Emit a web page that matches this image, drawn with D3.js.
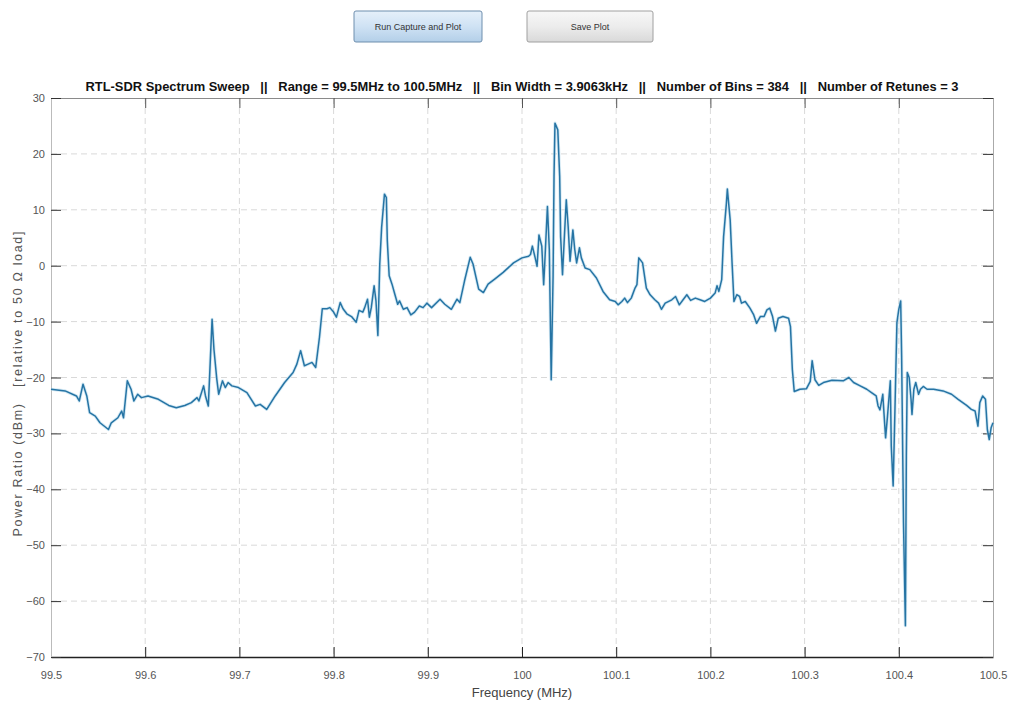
<!DOCTYPE html>
<html>
<head>
<meta charset="utf-8">
<script src="https://cdn.jsdelivr.net/npm/d3@7"></script>
<style>
  html, body { margin: 0; padding: 0; background: #ffffff; }
  svg { display: block; }
</style>
</head>
<body>
<svg id="chart" width="1011" height="706"></svg>
<script>
const titleText = "RTL-SDR Spectrum Sweep   ||   Range = 99.5MHz to 100.5MHz   ||   Bin Width = 3.9063kHz   ||   Number of Bins = 384   ||   Number of Retunes = 3";
const xLabel = "Frequency (MHz)";
const yLabel = "Power Ratio (dBm)   [relative to 50 \u03A9 load]";
const buttonLabels = ["Run Capture and Plot", "Save Plot"];
const xTicks = [99.5, 99.6, 99.7, 99.8, 99.9, 100, 100.1, 100.2, 100.3, 100.4, 100.5];
const xTickLabels = ["99.5", "99.6", "99.7", "99.8", "99.9", "100", "100.1", "100.2", "100.3", "100.4", "100.5"];
const yTicks = [30, 20, 10, 0, -10, -20, -30, -40, -50, -60, -70];

const freqMHz = [
  99.500, 99.515, 99.527, 99.530, 99.534, 99.538, 99.541, 99.547, 99.552, 99.561,
  99.564, 99.571, 99.575, 99.577, 99.581, 99.585, 99.588, 99.592, 99.596, 99.603,
  99.614, 99.625, 99.633, 99.642, 99.649, 99.655, 99.657, 99.662, 99.664, 99.667,
  99.671, 99.673, 99.676, 99.678, 99.682, 99.685, 99.688, 99.692, 99.699, 99.708,
  99.717, 99.722, 99.729, 99.738, 99.748, 99.757, 99.761, 99.765, 99.769, 99.773,
  99.777, 99.781, 99.785, 99.788, 99.793, 99.796, 99.800, 99.803, 99.807, 99.810,
  99.814, 99.819, 99.824, 99.827, 99.831, 99.833, 99.836, 99.838, 99.840, 99.843,
  99.845, 99.847, 99.849, 99.851, 99.854, 99.856, 99.857, 99.859, 99.862, 99.865,
  99.868, 99.870, 99.874, 99.878, 99.882, 99.886, 99.891, 99.895, 99.899, 99.904,
  99.913, 99.918, 99.925, 99.931, 99.934, 99.939, 99.945, 99.948, 99.954, 99.959,
  99.964, 99.971, 99.980, 99.991, 100.000, 100.007, 100.009, 100.011, 100.014, 100.016,
  100.018, 100.021, 100.023, 100.024, 100.027, 100.029, 100.031, 100.033, 100.034, 100.035,
  100.038, 100.040, 100.041, 100.043, 100.045, 100.047, 100.049, 100.051, 100.054, 100.056,
  100.058, 100.061, 100.063, 100.067, 100.072, 100.079, 100.086, 100.093, 100.099, 100.102,
  100.106, 100.109, 100.112, 100.116, 100.120, 100.122, 100.124, 100.128, 100.132, 100.136,
  100.141, 100.145, 100.148, 100.152, 100.159, 100.163, 100.167, 100.171, 100.175, 100.179,
  100.184, 100.189, 100.194, 100.200, 100.205, 100.207, 100.209, 100.212, 100.214, 100.217,
  100.218, 100.221, 100.223, 100.225, 100.228, 100.231, 100.233, 100.237, 100.242, 100.246,
  100.249, 100.253, 100.257, 100.260, 100.263, 100.266, 100.269, 100.272, 100.277, 100.283,
  100.285, 100.287, 100.289, 100.295, 100.302, 100.306, 100.308, 100.311, 100.315, 100.320,
  100.329, 100.341, 100.347, 100.352, 100.359, 100.366, 100.371, 100.376, 100.378, 100.380,
  100.383, 100.384, 100.386, 100.388, 100.391, 100.392, 100.394, 100.396, 100.398, 100.400,
  100.402, 100.403, 100.405, 100.407, 100.408, 100.409, 100.411, 100.413, 100.414, 100.416,
  100.418, 100.421, 100.423, 100.426, 100.430, 100.437, 100.447, 100.456, 100.463, 100.472,
  100.477, 100.481, 100.484, 100.486, 100.489, 100.492, 100.494, 100.496, 100.498, 100.500
];
const powerDbm = [
  -22.1, -22.4, -23.3, -24.2, -21.2, -23.3, -26.3, -26.9, -28.1, -29.3,
  -28.1, -27.2, -26.0, -27.2, -20.6, -22.1, -24.2, -23.0, -23.6, -23.3,
  -23.9, -25.0, -25.4, -25.0, -24.5, -23.6, -24.2, -21.5, -23.3, -25.1,
  -9.6, -15.0, -20.3, -23.0, -20.6, -21.8, -20.9, -21.5, -21.8, -22.7,
  -25.1, -24.8, -25.7, -23.3, -20.9, -19.1, -17.6, -15.2, -17.9, -17.6,
  -17.3, -18.2, -12.8, -7.7, -7.7, -7.5, -8.3, -9.2, -6.6, -7.7,
  -8.6, -9.1, -10.1, -8.0, -8.3, -7.5, -6.0, -9.2, -7.5, -3.6,
  -6.3, -12.5, 0.3, 6.9, 12.8, 12.2, 4.5, -1.8, -3.3, -5.1,
  -6.9, -6.3, -7.8, -7.5, -8.8, -8.3, -7.2, -7.5, -6.7, -7.5,
  -6.0, -6.9, -7.8, -6.0, -6.6, -2.7, 1.5, 0.3, -4.2, -4.8,
  -3.3, -2.4, -1.2, 0.5, 1.4, 1.7, 2.0, 3.5, 1.4, -0.1,
  5.5, 3.5, -3.4, -0.1, 10.6, 2.9, -20.4, -1.9, 16.0, 25.5,
  24.3, 16.0, 5.2, -1.6, 5.2, 11.8, 7.0, 0.8, 6.4, 2.9,
  0.5, 3.2, 1.4, -0.4, -0.7, -2.2, -4.6, -6.1, -6.4, -7.0,
  -6.4, -5.8, -6.6, -5.8, -4.0, -3.4, 1.4, 0.5, -4.0, -5.2,
  -6.1, -6.7, -7.8, -6.7, -6.1, -5.5, -7.0, -6.1, -5.2, -6.2,
  -5.8, -6.1, -6.4, -5.8, -4.9, -3.6, -4.6, -2.5, 5.2, 11.2,
  13.7, 8.2, 0.5, -6.4, -5.2, -5.5, -6.7, -6.4, -7.6, -8.8,
  -10.3, -9.1, -9.1, -7.9, -7.6, -9.1, -11.7, -9.4, -9.1, -9.4,
  -10.9, -18.6, -22.5, -22.1, -22.0, -20.7, -17.0, -20.4, -21.4, -20.9,
  -20.5, -20.6, -20.0, -20.9, -21.5, -22.1, -22.7, -23.3, -25.1, -25.8,
  -23.0, -25.7, -30.8, -26.9, -20.6, -32.2, -39.4, -25.1, -10.2, -7.8,
  -6.3, -16.1, -46.0, -64.4, -34.0, -19.1, -20.0, -23.9, -26.6, -22.1,
  -20.9, -23.0, -22.1, -21.6, -22.1, -22.1, -22.4, -23.0, -23.9, -25.0,
  -25.7, -26.0, -28.7, -24.5, -23.3, -23.9, -29.3, -31.1, -29.0, -28.1
];

const data = freqMHz.map((f, i) => ({ f: f, p: powerDbm[i] }));

const svg = d3.select("#chart");
const margin = { left: 51, right: 18, top: 98, bottom: 49 };
const W = 1011, H = 706;
const x = d3.scaleLinear().domain([99.5, 100.5]).range([margin.left, W - margin.right]);
const y = d3.scaleLinear().domain([-70, 30]).range([H - margin.bottom, margin.top]);

const font = "'Liberation Sans Narrow', 'Liberation Sans', Arial, sans-serif";

// Buttons
const defs = svg.append("defs");
const g1 = defs.append("linearGradient").attr("id", "btnBlue").attr("x1", 0).attr("y1", 0).attr("x2", 0).attr("y2", 1);
g1.append("stop").attr("offset", "0%").attr("stop-color", "#e6f0fa");
g1.append("stop").attr("offset", "50%").attr("stop-color", "#cfe2f4");
g1.append("stop").attr("offset", "100%").attr("stop-color", "#b3cfe8");
const g2 = defs.append("linearGradient").attr("id", "btnGray").attr("x1", 0).attr("y1", 0).attr("x2", 0).attr("y2", 1);
g2.append("stop").attr("offset", "0%").attr("stop-color", "#f7f7f7");
g2.append("stop").attr("offset", "50%").attr("stop-color", "#ececec");
g2.append("stop").attr("offset", "100%").attr("stop-color", "#d9d9d9");

const buttons = [
  { label: buttonLabels[0], x0: 354, x1: 482, fill: "url(#btnBlue)", stroke: "#6f8fae" },
  { label: buttonLabels[1], x0: 527, x1: 653, fill: "url(#btnGray)", stroke: "#a0a0a0" }
];
const bg = svg.append("g").selectAll("g").data(buttons).join("g");
bg.append("rect")
  .attr("x", d => d.x0).attr("y", 11)
  .attr("width", d => d.x1 - d.x0).attr("height", 31)
  .attr("rx", 2)
  .attr("fill", d => d.fill).attr("stroke", d => d.stroke).attr("stroke-width", 1);
bg.append("text")
  .attr("x", d => (d.x0 + d.x1) / 2).attr("y", 30)
  .attr("text-anchor", "middle")
  .attr("font-family", font).attr("font-size", 9)
  .attr("fill", "#333")
  .text(d => d.label);

// Grid
const grid = svg.append("g").attr("stroke", "#d9d9d9").attr("stroke-dasharray", "6,4").attr("stroke-width", 1);
grid.selectAll(".gx").data(xTicks.slice(1, -1)).join("line")
  .attr("x1", d => x(d)).attr("x2", d => x(d))
  .attr("y1", margin.top).attr("y2", H - margin.bottom);
grid.selectAll(".gy").data(yTicks.slice(1, -1)).join("line")
  .attr("x1", margin.left).attr("x2", W - margin.right)
  .attr("y1", d => y(d)).attr("y2", d => y(d));

// Axes
const xAxis = d3.axisBottom(x).tickValues(xTicks).tickFormat((d, i) => xTickLabels[i]).tickSizeInner(-10).tickSizeOuter(0).tickPadding(14);
const gx = svg.append("g").attr("transform", `translate(0,${H - margin.bottom})`).call(xAxis);
gx.select(".domain").attr("stroke", "#222").attr("stroke-width", 1.5);
gx.selectAll(".tick line").attr("stroke", "#222");
gx.selectAll("text").attr("font-family", font).attr("font-size", 11).attr("fill", "#555");

const xTop = d3.axisTop(x).tickValues(xTicks).tickSizeInner(-10).tickSizeOuter(0).tickFormat("");
const gxt = svg.append("g").attr("transform", `translate(0,${margin.top})`).call(xTop);
gxt.select(".domain").attr("stroke", "#8a8a8a").attr("stroke-width", 1.2);
gxt.selectAll(".tick line").attr("stroke", "#555");

const yAxis = d3.axisLeft(y).tickValues(yTicks).tickSizeInner(-10).tickSizeOuter(0).tickPadding(6);
const gy = svg.append("g").attr("transform", `translate(${margin.left},0)`).call(yAxis);
gy.select(".domain").attr("stroke", "#bbb").attr("stroke-width", 1);
gy.selectAll(".tick line").attr("stroke", "#333");
gy.selectAll("text").attr("font-family", font).attr("font-size", 11).attr("fill", "#555");

const yRight = d3.axisRight(y).tickValues(yTicks).tickSizeInner(-10).tickSizeOuter(0).tickFormat("");
const gyr = svg.append("g").attr("transform", `translate(${W - margin.right},0)`).call(yRight);
gyr.select(".domain").attr("stroke", "#aaa").attr("stroke-width", 1);
gyr.selectAll(".tick line").attr("stroke", "#333");

// Line
const line = d3.line().x(d => x(d.f)).y(d => y(d.p));
svg.append("path").datum(data)
  .attr("fill", "none")
  .attr("stroke", "#a9d4ea").attr("stroke-width", 3.2).attr("stroke-opacity", 0.5)
  .attr("stroke-linejoin", "round")
  .attr("d", line);
svg.append("path").datum(data)
  .attr("fill", "none")
  .attr("stroke", "#2674a4").attr("stroke-width", 1.5)
  .attr("stroke-linejoin", "round")
  .attr("d", line);

// Title
svg.append("text")
  .attr("x", 522).attr("y", 91)
  .attr("text-anchor", "middle")
  .attr("font-family", font).attr("font-size", 13).attr("font-weight", "bold")
  .attr("fill", "#111")
  .attr("textLength", 873).attr("lengthAdjust", "spacingAndGlyphs")
  .style("white-space", "pre")
  .text(titleText);

// Axis labels
svg.append("text")
  .attr("x", 522).attr("y", 697)
  .attr("text-anchor", "middle")
  .attr("font-family", font).attr("font-size", 13)
  .attr("fill", "#444")
  .text(xLabel);

svg.append("text")
  .attr("transform", "translate(22,384) rotate(-90)")
  .attr("text-anchor", "middle")
  .attr("font-family", "'Liberation Sans', Arial, sans-serif").attr("font-size", 12.5)
  .attr("fill", "#555")
  .attr("textLength", 305).attr("lengthAdjust", "spacing")
  .style("white-space", "pre")
  .text(yLabel);
</script>
</body>
</html>
